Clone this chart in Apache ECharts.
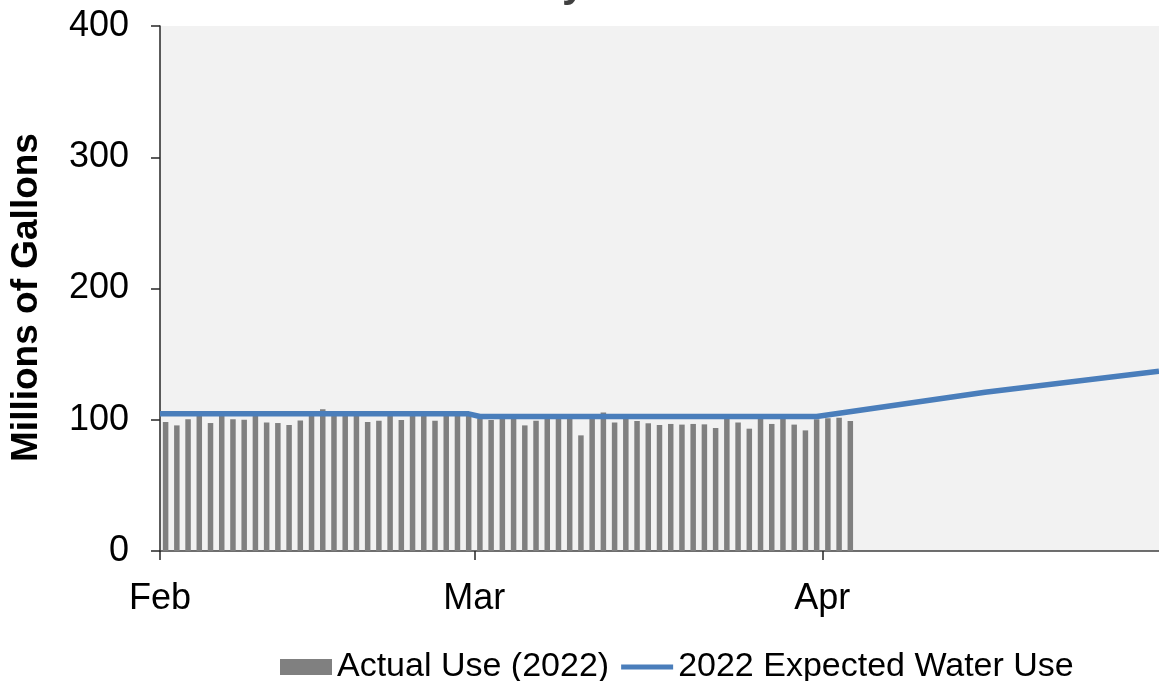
<!DOCTYPE html>
<html>
<head>
<meta charset="utf-8">
<script src="https://cdn.jsdelivr.net/npm/echarts@6/dist/echarts.min.js"></script>
<style>
html,body{margin:0;padding:0;background:#fff;}
#c{width:1159px;height:681px;}
</style>
</head>
<body>
<div id="c"></div>
<script>
// ---- data ----
const titleText = 'Daily Use';
const yTitle = 'Millions of Gallons';
const seriesNames = ['Actual Use (2022)', '2022 Expected Water Use'];
const monthTicks = [[2022, 1, 1], [2022, 2, 1], [2022, 3, 1]];
const monthLabels = ['Feb', 'Mar', 'Apr'];
const axisStart = [2022, 1, 1];
const axisEnd = [2022, 4, 1];
const actualStart = [2022, 1, 1];
const actualFeb = [98.3, 95.7, 100.3, 103, 97.5, 103.5, 100.3, 100, 103.5, 98, 97.5, 96, 99.5, 103.5,
  108, 104, 104, 106.5, 98.3, 99.3, 104, 99.8, 103.5, 104, 99.3, 103.5, 104, 103.5];
const actualMar = [101, 99.8, 100.5, 100.5, 95.7, 99.3, 100.5, 100.5, 100.5, 88.1, 100.5, 105.6, 98, 100.5,
  99, 97.3, 96, 96.8, 96.3, 96.8, 96.5, 93.7, 100.5, 98, 93.2, 100.5, 96.8, 100.5, 96.3, 91.9, 100.3];
const actualApr = [101.1, 101.6, 99];
const expectedDates = [[2022, 1, 1, 0], [2022, 1, 28, 12], [2022, 2, 1, 12], [2022, 2, 31, 12], [2022, 3, 15, 12], [2022, 4, 1, 0]];
const expectedValues = [104.5, 104.5, 102.5, 102.5, 121, 137];
const yTicks = [0, 100, 200, 300, 400];

// ---- build ----
const d = a => new Date(a[0], a[1], a[2], a[3] || 0).getTime();
const actualValues = actualFeb.concat(actualMar, actualApr);
const actualData = actualValues.map((v, i) => [new Date(actualStart[0], actualStart[1], actualStart[2] + i, 12).getTime(), v]);
const expectedData = expectedDates.map((a, i) => [d(a), expectedValues[i]]);
const tickVals = monthTicks.map(d);

const chart = echarts.init(document.getElementById('c'), null, {renderer: 'canvas'});
const font = '"Liberation Sans", Arial, sans-serif';
chart.setOption({
  animation: false,
  textStyle: {fontFamily: font},
  title: {
    text: titleText, left: 'center', top: -42,
    textStyle: {fontFamily: font, fontSize: 42, fontWeight: 'bold', color: '#404040'}
  },
  grid: {left: 160, right: -2, top: 26, bottom: 130, show: true, backgroundColor: '#f2f2f2', borderWidth: 0, containLabel: false},
  legend: {
    left: 275, top: 645, itemWidth: 52, itemHeight: 16, itemGap: 12,
    textStyle: {fontFamily: font, fontSize: 34, color: '#000'},
    data: [
      {name: seriesNames[0], icon: 'rect'},
      {name: seriesNames[1], icon: 'path://M0,0 H55 V5.5 H0 Z'}
    ]
  },
  xAxis: {
    type: 'value',
    min: d(axisStart), max: d(axisEnd),
    axisLine: {show: true, onZero: false, lineStyle: {color: '#404040', width: 1.5}},
    axisTick: {show: true, customValues: tickVals, length: 9, lineStyle: {color: '#262626', width: 1.5}},
    axisLabel: {
      customValues: tickVals, margin: 30, fontSize: 36, color: '#000', fontFamily: font,
      formatter: v => { const i = tickVals.indexOf(v); return i >= 0 ? monthLabels[i] : ''; }
    },
    splitLine: {show: false}
  },
  yAxis: {
    type: 'value', min: yTicks[0], max: yTicks[yTicks.length - 1], interval: 100,
    name: yTitle, nameLocation: 'middle', nameGap: 115, nameRotate: 90,
    nameTextStyle: {fontFamily: font, fontSize: 37, fontWeight: 'bold', color: '#000', padding: [0, 0, 0, -18]},
    axisLine: {show: true, lineStyle: {color: '#262626', width: 1.5}},
    axisTick: {show: true, length: 9, lineStyle: {color: '#262626', width: 1.5}},
    axisLabel: {margin: 31, fontSize: 36, color: '#000', fontFamily: font},
    splitLine: {show: false}
  },
  series: [
    {
      name: seriesNames[0], type: 'bar', data: actualData, barWidth: 5.5,
      itemStyle: {color: '#808080'}, z: 2
    },
    {
      name: seriesNames[1], type: 'line', data: expectedData, showSymbol: false, symbol: 'none',
      lineStyle: {color: '#4a7ebb', width: 5.5}, itemStyle: {color: '#4a7ebb'}, z: 3
    }
  ]
});
</script>
</body>
</html>
